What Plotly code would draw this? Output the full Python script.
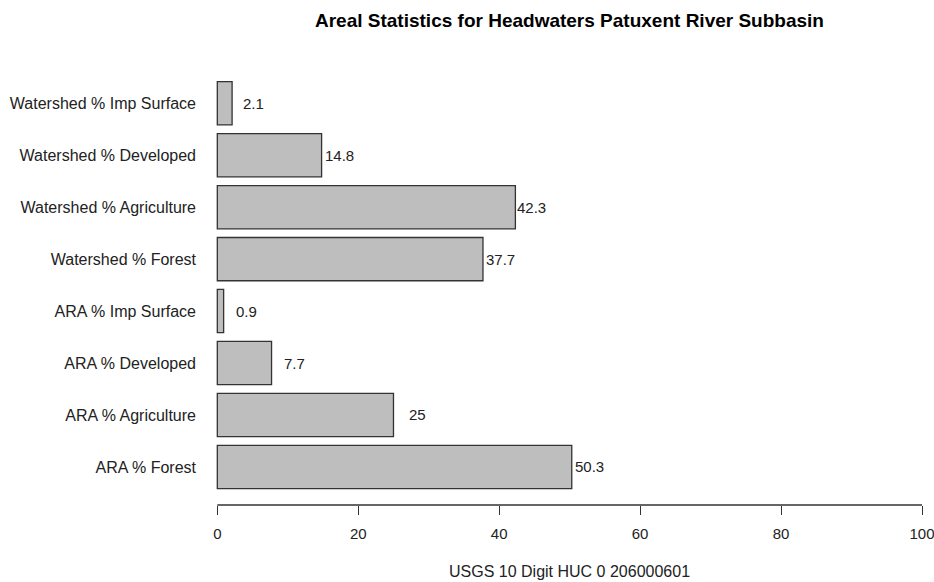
import plotly.graph_objects as go

# Areal statistics (percent of area) for the subbasin, bottom-to-top order
categories = [
    "ARA % Forest",
    "ARA % Agriculture",
    "ARA % Developed",
    "ARA % Imp Surface",
    "Watershed % Forest",
    "Watershed % Agriculture",
    "Watershed % Developed",
    "Watershed % Imp Surface",
]
values = [50.3, 25, 7.7, 0.9, 37.7, 42.3, 14.8, 2.1]
value_text = ["50.3", "25", "7.7", "0.9", "37.7", "42.3", "14.8", "2.1"]
x_ticks = [0, 20, 40, 60, 80, 100]

# pixel nudges for the value labels beside each bar
label_shift = [1, 14, 10, 10, 1, 0, 1, 9]

FONT = "Liberation Sans, Arial, sans-serif"
INK = "#222222"

fig = go.Figure()
fig.add_trace(go.Bar(
    x=values,
    y=list(range(len(categories))),
    orientation="h",
    marker=dict(color="#bebebe", line=dict(color="#333333", width=1.3)),
    width=0.833,
    hoverinfo="skip",
))

for i, (v, t) in enumerate(zip(values, value_text)):
    fig.add_annotation(
        x=v, y=i, xref="x", yref="y", text=t, showarrow=False,
        xanchor="left", yanchor="middle", xshift=label_shift[i],
        font=dict(family=FONT, size=15, color=INK),
    )

# axis baseline spanning the tick range
fig.add_shape(type="line", xref="x", yref="paper", x0=x_ticks[0], x1=x_ticks[-1],
              y0=0, y1=0, line=dict(color="#333333", width=1.3))

fig.add_annotation(
    text="<b>Areal Statistics for Headwaters Patuxent River Subbasin</b>",
    xref="x", yref="paper", x=50, y=1, yshift=45, showarrow=False,
    xanchor="center", yanchor="middle",
    font=dict(family=FONT, size=19, color="#000000"),
)
fig.add_annotation(
    text="USGS 10 Digit HUC 0 206000601",
    xref="x", yref="paper", x=50, y=0, yshift=-66, showarrow=False,
    xanchor="center", yanchor="middle",
    font=dict(family=FONT, size=16, color=INK),
)

fig.update_layout(
    width=934, height=582,
    margin=dict(l=200, r=4, t=65, b=77, autoexpand=False),
    paper_bgcolor="white", plot_bgcolor="white",
    showlegend=False,
    xaxis=dict(
        range=[-2.455, 101.135], tickvals=x_ticks, ticks="outside", ticklen=9,
        tickcolor="#333333", tickwidth=1.3, showgrid=False, zeroline=False,
        showline=False, ticklabeloverflow="allow", automargin=False,
        ticklabelstandoff=6,
        tickfont=dict(family=FONT, size=15, color=INK),
    ),
    yaxis=dict(
        range=[-0.733, 7.737], tickvals=list(range(len(categories))),
        ticktext=categories, ticks="", showgrid=False, zeroline=False,
        showline=False, ticklabelstandoff=3, automargin=False,
        tickfont=dict(family=FONT, size=16, color=INK),
    ),
)

fig.write_html("out.html")
